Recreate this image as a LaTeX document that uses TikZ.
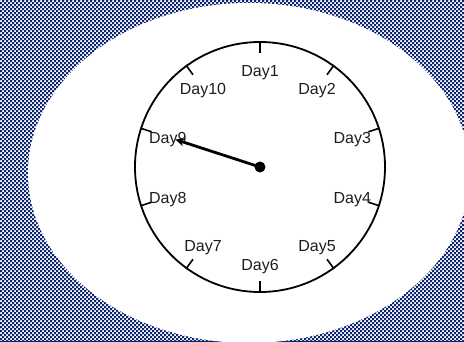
\documentclass[tikz,border=0pt]{standalone}
\usepackage{fontspec}
\setmainfont{Liberation Sans}
\usetikzlibrary{arrows.meta,calc}
\definecolor{navy}{RGB}{14,38,112}
\definecolor{txt}{RGB}{30,30,30}
\tikzset{
  daylabel/.style={font=\fontsize{16}{18}\selectfont, text=txt, inner sep=0pt},
  tickline/.style={line width=1.6pt},
  handline/.style={line width=2.8pt},
}
\begin{document}
\begin{tikzpicture}[x=1pt,y=-1pt]
\useasboundingbox (0,0) rectangle (464,341);
\fill[white] (0,0) rectangle (464,341);
\fill[navy, even odd rule]
  \foreach \x in {0,4,...,460} {(\x,0) rectangle ++(2,341)}
  \foreach \y in {0,4,...,340} {(0,\y) rectangle ++(464,2)};
\fill[white] (249,173) ellipse [x radius=221, y radius=170];
\coordinate (c) at (260,167);
\node[draw, circle, line width=1.8pt, minimum size=250pt, inner sep=0pt] (clock) at (c) {};
\foreach \i in {1,...,10} {
  \pgfmathsetmacro{\ang}{90-36*(\i-1)}
  \draw[tickline] (clock.\ang) -- ($(c)+(\ang:114pt)$);
  \node[daylabel] (d\i) at ($(c)+(\ang:97pt)+(0,2.5)$) {Day\i};
}
\coordinate (tip) at ($(c)+(162:89pt)$);
\draw[handline, -{Stealth[length=9pt,width=8pt]}] (c) -- (tip);
\fill (c) circle (5.5pt);
\end{tikzpicture}
\end{document}
